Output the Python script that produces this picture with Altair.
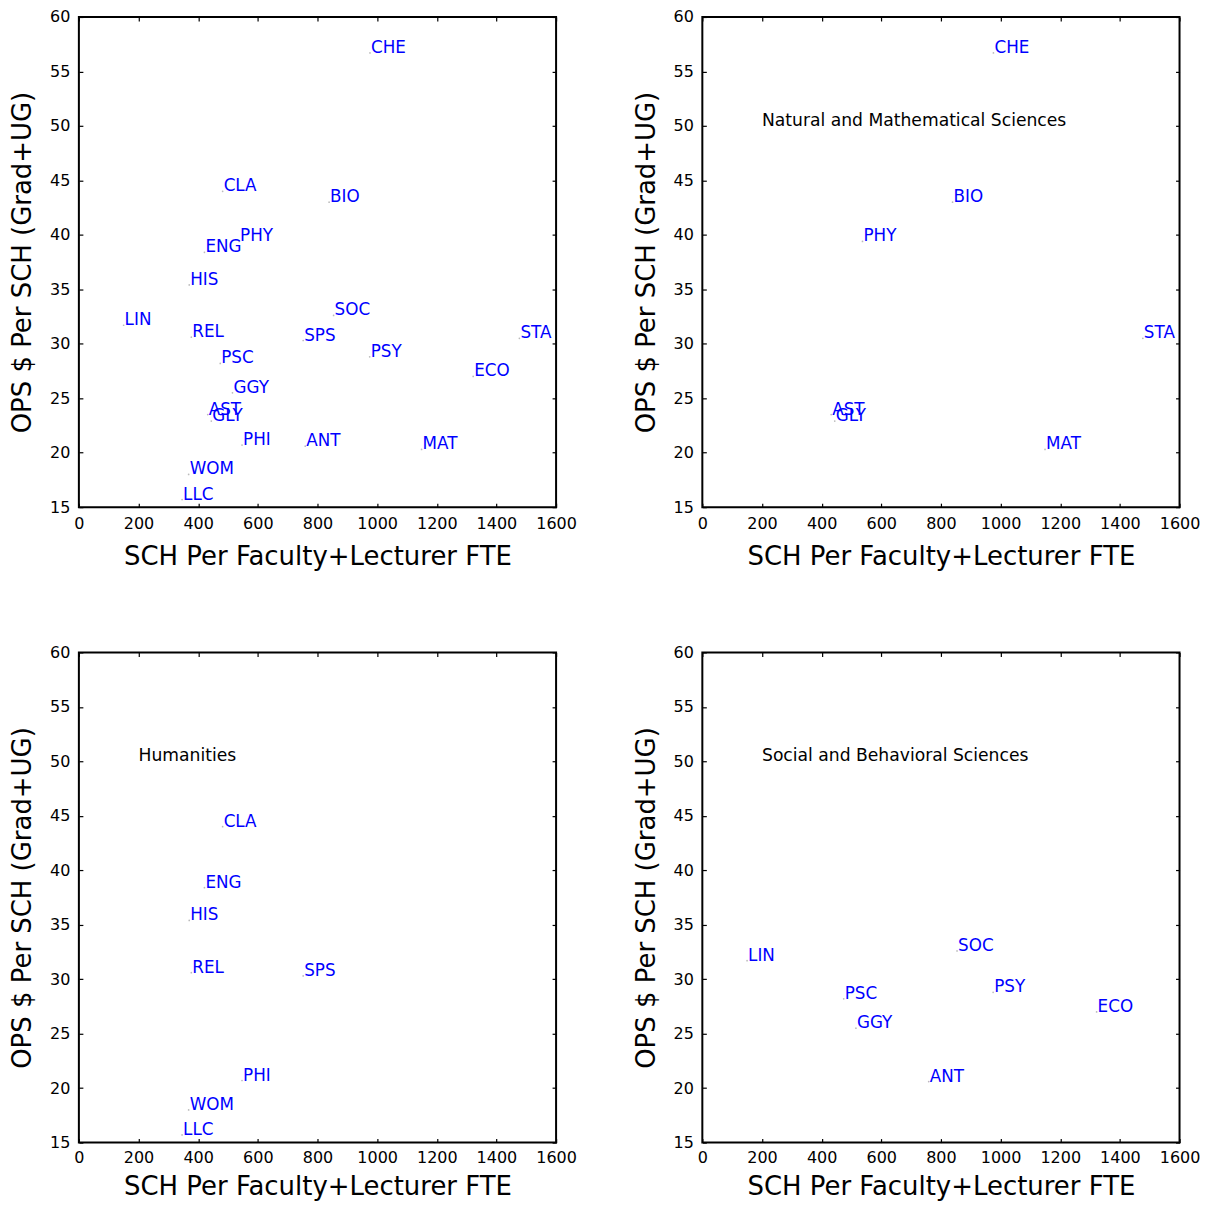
import altair as alt
import pandas as pd

# ---- data ----
depts = ["CHE", "CLA", "BIO", "PHY", "ENG", "HIS", "LIN", "SOC", "REL", "SPS", "STA",
         "PSY", "PSC", "ECO", "GGY", "AST", "GLY", "PHI", "ANT", "MAT", "WOM", "LLC"]
sch = [976, 482, 839, 537, 421, 370, 150, 854, 377, 752, 1477,
       975, 474, 1322, 515, 432, 444, 547, 759, 1149, 368, 346]
ops = [56.7, 44.0, 43.0, 39.4, 38.4, 35.4, 31.7, 32.6, 30.6, 30.3, 30.5,
       28.8, 28.2, 27.0, 25.5, 23.5, 22.9, 20.7, 20.6, 20.3, 18.0, 15.7]
groups = ["N", "H", "N", "N", "H", "H", "S", "S", "H", "H", "N",
          "S", "S", "S", "S", "N", "N", "H", "S", "N", "H", "H"]

group_names = {"N": "Natural and Mathematical Sciences",
               "H": "Humanities",
               "S": "Social and Behavioral Sciences"}

x_ticks = [0, 200, 400, 600, 800, 1000, 1200, 1400, 1600]
y_ticks = [15, 20, 25, 30, 35, 40, 45, 50, 55, 60]

x_title = "SCH Per Faculty+Lecturer FTE"
y_title = "OPS $ Per SCH (Grad+UG)"

df = pd.DataFrame({"dept": depts, "sch": sch, "ops": ops, "group": groups})

W, H = 478, 491
FONT = "DejaVu Sans"

xs = alt.Scale(domain=[0, 1600], nice=False, zero=False)
ys = alt.Scale(domain=[15, 60], nice=False, zero=False)


def panel(data, note=None, label_pad=8, title_pad=12):
    base = alt.Chart(data)
    x_main = alt.X("sch:Q", scale=xs, axis=alt.Axis(
        values=x_ticks, format="d", title=x_title, orient="bottom", offset=-4, tickSize=4,
        labelPadding=label_pad, titlePadding=title_pad, domain=False, grid=False,
        labelFlush=False))
    y_main = alt.Y("ops:Q", scale=ys, axis=alt.Axis(
        values=y_ticks, format="d", title=y_title, orient="left", offset=-4, tickSize=4,
        labelPadding=9, titlePadding=14, domain=False, grid=False, labelFlush=False))
    dots = base.mark_circle(size=3, color="#aaaaaa", opacity=0.8).encode(x=x_main, y=y_main)
    labels = base.mark_text(align="left", baseline="alphabetic", dx=1, font=FONT,
                            fontSize=16.8, color="blue").encode(
        x=alt.X("sch:Q", scale=xs), y=alt.Y("ops:Q", scale=ys), text="dept:N")
    layers = [dots, labels]
    if note is not None:
        nd = pd.DataFrame({"sch": [200], "ops": [50], "note": [note]})
        layers.append(alt.Chart(nd).mark_text(
            align="left", baseline="alphabetic", font=FONT, fontSize=17.2, color="black").encode(
            x=alt.X("sch:Q", scale=xs), y=alt.Y("ops:Q", scale=ys), text="note:N"))
    # secondary axes with inward ticks on top and right
    x_top = alt.X("sch:Q", scale=xs, axis=alt.Axis(
        values=x_ticks, title=None, orient="top", offset=-4, tickSize=4,
        labels=False, domain=False, grid=False))
    y_right = alt.Y("ops:Q", scale=ys, axis=alt.Axis(
        values=y_ticks, title=None, orient="right", offset=-4, tickSize=4,
        labels=False, domain=False, grid=False))
    ghost = base.mark_point(opacity=0).encode(x=x_top, y=y_right)
    main = alt.layer(*layers)
    return alt.layer(main, ghost).resolve_axis(x="independent", y="independent").properties(
        width=W, height=H)


p1 = panel(df)
p2 = panel(df[df.group == "N"], group_names["N"])
p3 = panel(df[df.group == "H"], group_names["H"], label_pad=7, title_pad=8)
p4 = panel(df[df.group == "S"], group_names["S"], label_pad=7, title_pad=8)

row1 = alt.hconcat(p1, p2, spacing=53.5)
row2 = alt.hconcat(p3, p4, spacing=53.5)

chart = alt.vconcat(row1, row2, spacing=73.5).properties(
    padding={"left": 0, "top": -1, "right": -1, "bottom": 0}
).configure_view(
    stroke="black", strokeWidth=2
).configure_axis(
    labelFont=FONT, labelFontSize=16, labelColor="black",
    titleFont=FONT, titleFontSize=26, titleFontWeight="normal", titleColor="black",
    tickColor="black", tickWidth=1.2
)

chart.save("out.html", embed_options={"renderer": "svg", "actions": False})
